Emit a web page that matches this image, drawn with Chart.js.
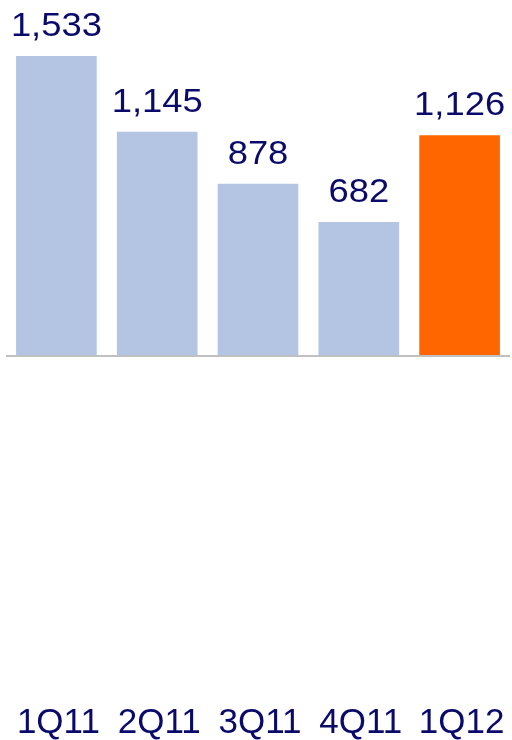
<!DOCTYPE html>
<html>
<head>
<meta charset="utf-8">
<script src="https://cdn.jsdelivr.net/npm/chart.js@4/dist/chart.umd.min.js"></script>
<style>
html,body{margin:0;padding:0;background:#fff;}
#wrap{width:512px;height:740px;position:relative;}
</style>
</head>
<body>
<div id="wrap"><canvas id="c" width="512" height="740"></canvas></div>
<script>
const categories = ["1Q11", "2Q11", "3Q11", "4Q11", "1Q12"];
const values = [1533, 1145, 878, 682, 1126];
const valueLabels = ["1,533", "1,145", "878", "682", "1,126"];
const barColors = ["#b4c5e4", "#b4c5e4", "#b4c5e4", "#b4c5e4", "#ff6600"];

const textColor = "#0a0a6b";
const fontFamily = "'Liberation Sans', Arial, sans-serif";

const valueLabelPlugin = {
  id: "valueLabels",
  afterDatasetsDraw(chart) {
    const ctx = chart.ctx;
    const meta = chart.getDatasetMeta(0);
    meta.data.forEach((bar, i) => {
      ctx.save();
      ctx.fillStyle = textColor;
      ctx.font = "34px " + fontFamily;
      ctx.textAlign = "center";
      ctx.textBaseline = "alphabetic";
      ctx.translate(bar.x, bar.y - 20);
      ctx.scale(1.07, 1);
      ctx.fillText(valueLabels[i], 0, 0);
      ctx.restore();
    });
  }
};

new Chart(document.getElementById("c"), {
  type: "bar",
  data: {
    labels: categories,
    datasets: [{
      data: values,
      backgroundColor: barColors,
      borderWidth: 0,
      barPercentage: 0.8,
      categoryPercentage: 1.0
    }]
  },
  options: {
    responsive: false,
    animation: false,
    devicePixelRatio: 1,
    layout: { padding: { left: 6, right: 2, top: 0, bottom: 0 } },
    plugins: { legend: { display: false }, tooltip: { enabled: false } },
    scales: {
      y: {
        display: true,
        min: -1802,
        max: 1820,
        afterBuildTicks(scale) { scale.ticks = [{ value: -5 }]; },
        ticks: { display: false },
        border: { display: false },
        grid: {
          drawTicks: false,
          lineWidth: 2,
          color: (c) => (c.tick && c.tick.value === -5 ? "#c0c0c0" : "rgba(0,0,0,0)")
        }
      },
      x: {
        grid: { display: false, drawTicks: false },
        border: { display: false },
        ticks: {
          color: textColor,
          font: { size: 35, family: fontFamily, lineHeight: 0.9 },
          padding: 1,
          maxRotation: 0,
          autoSkip: false,
          labelOffset: 2
        }
      }
    }
  },
  plugins: [valueLabelPlugin]
});
</script>
</body>
</html>
